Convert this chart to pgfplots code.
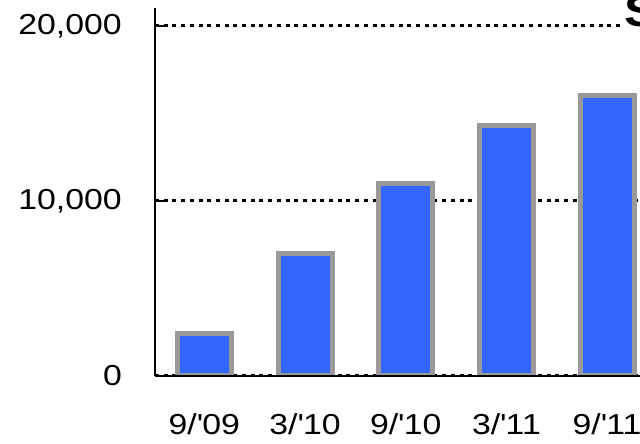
\documentclass[border=0pt]{standalone}
\usepackage{fontspec}
\setmainfont[FakeStretch=1.17]{Liberation Sans}
\usepackage{pgfplots}
\pgfplotsset{compat=1.18}
\definecolor{barblue}{HTML}{3366FF}
\definecolor{bargray}{HTML}{999999}
\begin{document}
\begin{tikzpicture}
\useasboundingbox (0,0) rectangle (640bp,444bp);
\clip (0,0) rectangle (640bp,444bp);
\begin{axis}[
  at={(155bp,68bp)}, anchor=south west,
  scale only axis,
  width=542.7bp, height=367.5bp,
  xmin=-0.49, xmax=4.9,
  ymin=0, ymax=21000,
  axis x line*=bottom, axis y line*=left,
  axis line style={line width=2.7bp, -},
  xtick={0,1,2,3,4},
  xticklabels={9/\textquotesingle 09,3/\textquotesingle 10,9/\textquotesingle 10,3/\textquotesingle 11,9/\textquotesingle 11},
  ytick={0,10000,20000},
  yticklabels={0,{10,000},{20,000}},
  tick align=inside,
  major tick length=10bp,
  x tick style={draw=none},
  y tick style={line width=2.5bp, black},
  ymajorgrids,
  grid style={black, line width=3bp, dash pattern=on 4bp off 4.7bp},
  tick label style={font=\fontsize{29}{31}\selectfont, inner sep=0pt},
  xticklabel style={anchor=north, yshift=-37bp},
  yticklabel style={anchor=east, xshift=-33bp},
]
% quarterly values, one bar per reporting date
\addplot[ybar, bar width=54bp, bar shift=0pt, fill=barblue, draw=bargray, line width=5bp]
  coordinates {(0,2450) (1,7000) (2,11000) (3,14300) (4,16000)};
\draw[line width=2.7bp] (rel axis cs:0,0) -- (rel axis cs:1,0);
\end{axis}
\node[anchor=base west, fill=white, inner sep=2bp, font=\bfseries\fontsize{44}{44}\selectfont] at (622bp,417bp) {S};
\end{tikzpicture}
\end{document}
